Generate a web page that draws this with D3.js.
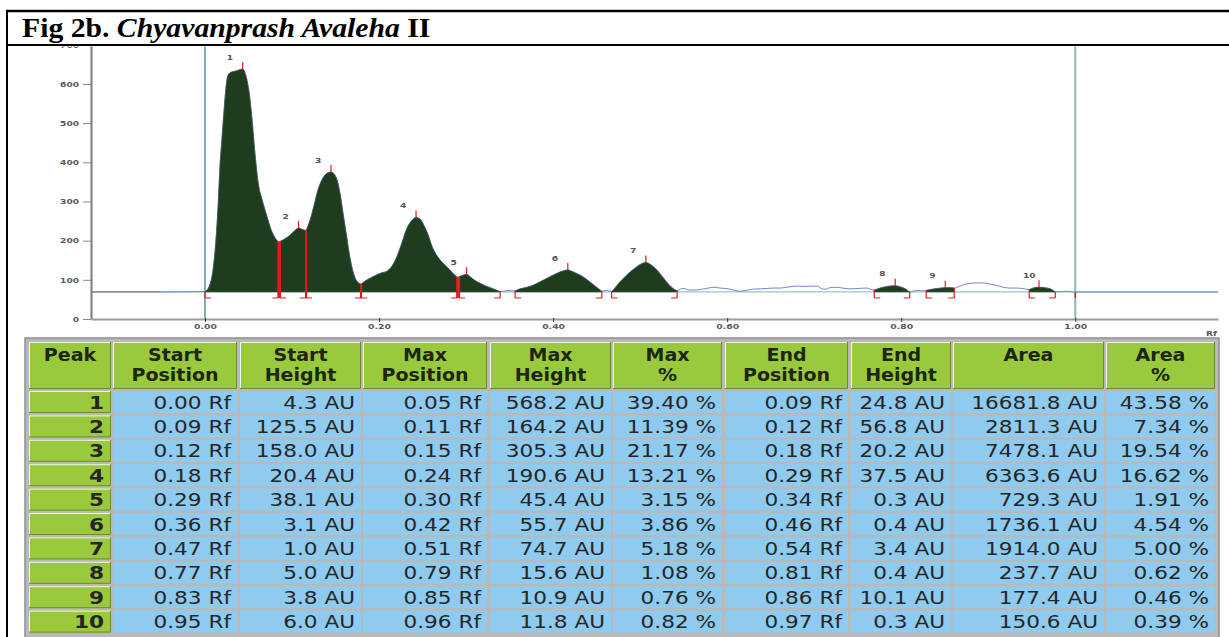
<!DOCTYPE html>
<html>
<head>
<meta charset="utf-8">
<script src="https://cdn.jsdelivr.net/npm/d3@7"></script>
<style>
  body { margin: 0; background: #fff; }
  svg { display: block; }
</style>
</head>
<body>
<svg id="fig"></svg>
<script>
// Densitogram trace (Rf, AU)
const curveRf = [-0.0517, 0, 0.0046, 0.0092, 0.0126, 0.0153, 0.0172, 0.0195, 0.0218, 0.0241, 0.0264, 0.0299, 0.0356,
  0.0433, 0.0471, 0.0506, 0.0540, 0.0575, 0.0609, 0.0655, 0.0701, 0.0759, 0.0843, 0.0862, 0.0920, 0.0977, 0.1034,
  0.1075, 0.1126, 0.1161, 0.1207, 0.1253, 0.1299, 0.1356, 0.1402, 0.1448, 0.1483, 0.1517, 0.1552, 0.1586, 0.1621,
  0.1655, 0.1690, 0.1724, 0.1759, 0.1793, 0.1839, 0.1897, 0.1966, 0.2034, 0.2092, 0.2149, 0.2207, 0.2264, 0.2322,
  0.2379, 0.2425, 0.2471, 0.2517, 0.2563, 0.2609, 0.2655, 0.2724, 0.2793, 0.2851, 0.2897, 0.2920, 0.2966, 0.3006,
  0.3046, 0.3103, 0.3161, 0.3218, 0.3276, 0.3333, 0.3391, 0.3437, 0.3483, 0.3529, 0.3563, 0.3621, 0.3701, 0.3770,
  0.3851, 0.3931, 0.4000, 0.4080, 0.4169, 0.4230, 0.4310, 0.4379, 0.4448, 0.4506, 0.4560, 0.4609, 0.4644, 0.4672,
  0.4713, 0.4770, 0.4828, 0.4885, 0.4943, 0.5000, 0.5066, 0.5126, 0.5184, 0.5241, 0.5299, 0.5356, 0.5425, 0.5471,
  0.5506, 0.5552, 0.5632, 0.5713, 0.5782, 0.5839, 0.5920, 0.6011, 0.6092, 0.6149, 0.6218, 0.6287, 0.6379, 0.6460,
  0.6540, 0.6609, 0.6678, 0.6747, 0.6816, 0.6897, 0.6977, 0.7034, 0.7080, 0.7126, 0.7184, 0.7253, 0.7322, 0.7414,
  0.7506, 0.7598, 0.7690, 0.7759, 0.7839, 0.7931, 0.7989, 0.8046, 0.8098, 0.8138, 0.8195, 0.8241, 0.8287, 0.8356,
  0.8425, 0.8506, 0.8563, 0.8609, 0.8667, 0.8724, 0.8793, 0.8874, 0.8954, 0.9023, 0.9092, 0.9172, 0.9253, 0.9333,
  0.9414, 0.9471, 0.9529, 0.9583, 0.9644, 0.9713, 0.9770, 0.9828, 0.9897, 0.9943, 1.0, 1.1644];
const curveAu = [69, 70, 82, 125, 202, 300, 390, 460, 530, 590, 622, 630, 633,
  638, 620, 580, 510, 420, 350, 305, 270, 228, 197, 198, 205, 214, 226,
  232, 228, 226, 252, 290, 330, 360, 372, 375, 370, 355, 320, 270, 220,
  170, 130, 105, 93, 89, 97, 104, 112, 118, 122, 135, 160, 195, 232,
  252, 259, 255, 238, 215, 185, 165, 145, 130, 116, 107, 108, 112, 114,
  108, 98, 91, 85, 80, 75, 70, 71, 73, 72, 72, 77, 81, 86,
  95, 104, 112, 120, 125, 120, 112, 102, 90, 80, 71, 73, 72, 70,
  80, 95, 108, 120, 130, 139, 144, 138, 127, 112, 96, 82, 72, 77,
  78, 74, 74, 76, 79, 81, 79, 77, 73, 71, 73, 76, 77, 78,
  79, 79, 81, 83, 84, 83, 84, 84, 78, 76, 80, 81, 79, 77,
  78, 79, 74, 79, 83, 85, 82, 77, 69, 71, 73, 72, 73, 76,
  78, 80, 80, 79, 83, 88, 91, 92, 92, 89, 86, 81, 79, 79,
  77, 75, 80, 81, 80, 77, 69, 70, 71, 70, 69, 69];
const baselineAu = 69;

// Integrated peaks as marked on the trace
const peakIds = [1, 2, 3, 4, 5, 6, 7, 8, 9, 10];
const markStartRf = [0, 0.0862, 0.1161, 0.1793, 0.2920, 0.3563, 0.4672, 0.7690, 0.8287, 0.9471];
const markEndRf = [0.0843, 0.1161, 0.1793, 0.2897, 0.3391, 0.4560, 0.5425, 0.8098, 0.8609, 0.9770];
const markMaxRf = [0.0433, 0.1075, 0.1448, 0.2425, 0.3006, 0.4169, 0.5066, 0.7931, 0.8506, 0.9583];
const frontRf = [1.0];

// Axis ticks
const yTicks = [0, 100, 200, 300, 400, 500, 600, 700];
const xTicks = [0, 0.2, 0.4, 0.6, 0.8, 1.0];

// Peak table
const colHeads = [['Peak'], ['Start', 'Position'], ['Start', 'Height'], ['Max', 'Position'], ['Max', 'Height'],
  ['Max', '%'], ['End', 'Position'], ['End', 'Height'], ['Area'], ['Area', '%']];
const startPos = [0.00, 0.09, 0.12, 0.18, 0.29, 0.36, 0.47, 0.77, 0.83, 0.95];
const startHeight = [4.3, 125.5, 158.0, 20.4, 38.1, 3.1, 1.0, 5.0, 3.8, 6.0];
const maxPos = [0.05, 0.11, 0.15, 0.24, 0.30, 0.42, 0.51, 0.79, 0.85, 0.96];
const maxHeight = [568.2, 164.2, 305.3, 190.6, 45.4, 55.7, 74.7, 15.6, 10.9, 11.8];
const maxPct = [39.40, 11.39, 21.17, 13.21, 3.15, 3.86, 5.18, 1.08, 0.76, 0.82];
const endPos = [0.09, 0.12, 0.18, 0.29, 0.34, 0.46, 0.54, 0.81, 0.86, 0.97];
const endHeight = [24.8, 56.8, 20.2, 37.5, 0.3, 0.4, 3.4, 0.4, 10.1, 0.3];
const area = [16681.8, 2811.3, 7478.1, 6363.6, 729.3, 1736.1, 1914.0, 237.7, 177.4, 150.6];
const areaPct = [43.58, 7.34, 19.54, 16.62, 1.91, 4.54, 5.00, 0.62, 0.46, 0.39];

const width = 1229;
const height = 637;

const svg = d3.select('#fig')
  .attr('width', width)
  .attr('height', height);

// stretched text helper (the scan is wider than it is tall)
function stext(g, tx, ty, txt, sx, anchor) {
  return g.append('text')
    .attr('transform', `translate(${tx},${ty}) scale(${sx},1)`)
    .attr('text-anchor', anchor || 'start')
    .text(txt);
}

// Scales
const x = d3.scaleLinear().domain([-0.131, 1.164]).range([91, 1218]);
const y = d3.scaleLinear().domain([0, 700]).range([319, 44.8]);

const pts = curveRf.map((r, i) => ({ rf: r, au: curveAu[i] }));
const auAt = rf => pts.reduce((a, b) => Math.abs(b.rf - rf) < Math.abs(a.rf - rf) ? b : a).au;

svg.append('clipPath').attr('id', 'plotClip')
  .append('rect').attr('x', 0).attr('y', 46.5).attr('width', width).attr('height', height);

const plot = svg.append('g').attr('clip-path', 'url(#plotClip)');

// Baseline
plot.append('line')
  .attr('x1', x.range()[0]).attr('x2', x.range()[1])
  .attr('y1', y(baselineAu)).attr('y2', y(baselineAu))
  .attr('stroke', '#9cc4c4').attr('stroke-width', 1.3);
plot.append('line')
  .attr('x1', x.range()[0]).attr('x2', x(curveRf[0]))
  .attr('y1', y(baselineAu)).attr('y2', y(baselineAu))
  .attr('stroke', '#7a7a7a').attr('stroke-width', 1.3);

// Raw trace
const line = d3.line().x(d => x(d.rf)).y(d => y(d.au)).curve(d3.curveMonotoneX);
plot.append('path')
  .datum(pts)
  .attr('d', line)
  .attr('fill', 'none')
  .attr('stroke', '#7384cf')
  .attr('stroke-width', 1);

// Filled peaks
const areaGen = d3.area().x(d => x(d.rf)).y0(y(baselineAu)).y1(d => y(d.au)).curve(d3.curveMonotoneX);
peakIds.forEach((p, i) => {
  const seg = pts.filter(d => d.rf >= markStartRf[i] - 1e-6 && d.rf <= markEndRf[i] + 1e-6);
  plot.append('path')
    .datum(seg)
    .attr('d', areaGen)
    .attr('fill', '#1e3d1f')
    .attr('stroke', '#4a5a4a')
    .attr('stroke-width', 0.6);
});

// Start / end of track
[0, 1].forEach((v, k) => {
  plot.append('line')
    .attr('x1', x(v)).attr('x2', x(v))
    .attr('y1', 40).attr('y2', 319)
    .attr('stroke', k ? '#8fb5b5' : '#2f7c7c')
    .attr('stroke-width', k ? 2 : 1.2);
});

// Axes
const yAxis = d3.axisLeft(y).tickValues(yTicks).tickSize(8).tickPadding(1.2).tickSizeOuter(0);
const gy = plot.append('g').attr('transform', 'translate(91,0)').call(yAxis);
gy.select('.domain').attr('stroke', '#7d7d7d').attr('stroke-width', 2);
gy.selectAll('.tick line').attr('stroke', '#8a8a8a');
gy.selectAll('.tick text')
  .attr('fill', '#5a5a5a')
  .attr('font-family', 'DejaVu Sans')
  .attr('font-weight', 'bold')
  .attr('font-size', 7)
  .attr('transform', 'scale(1.3,1)');

const xAxis = d3.axisBottom(x).tickValues(xTicks).tickFormat(d3.format('.2f')).tickSize(3).tickPadding(2).tickSizeOuter(0);
const gx = plot.append('g').attr('transform', 'translate(0,319)').call(xAxis);
gx.select('.domain').attr('stroke', '#9c9c9c').attr('stroke-width', 2);
gx.selectAll('.tick line').attr('stroke', '#333').attr('y1', -1);
gx.selectAll('.tick text')
  .attr('fill', '#5a5a5a')
  .attr('font-family', 'DejaVu Sans')
  .attr('font-weight', 'bold')
  .attr('font-size', 7)
  .attr('transform', 'scale(1.33,1)');

const rfLab = stext(svg, 1206, 336, 'Rf', 1.3);
rfLab.attr('fill', '#5a5a5a').attr('font-family', 'DejaVu Sans').attr('font-weight', 'bold').attr('font-size', 7);

// Peak marks
const red = '#e3171c';
const yFoot = y(baselineAu) + 6;
peakIds.forEach((p, i) => {
  const s = markStartRf[i], e = markEndRf[i], m = markMaxRf[i];
  [[s, 6], [e, -6]].forEach(([rf, dir]) => {
    const au = auAt(rf);
    const w = au - baselineAu > 10 ? 2 : 1.2;
    plot.append('line')
      .attr('x1', x(rf)).attr('x2', x(rf))
      .attr('y1', y(au)).attr('y2', yFoot)
      .attr('stroke', red).attr('stroke-width', w);
    plot.append('line')
      .attr('x1', x(rf)).attr('x2', x(rf) + dir)
      .attr('y1', yFoot).attr('y2', yFoot)
      .attr('stroke', red).attr('stroke-width', 1);
  });
  const top = y(auAt(m));
  plot.append('line')
    .attr('x1', x(m)).attr('x2', x(m))
    .attr('y1', top - 7).attr('y2', top)
    .attr('stroke', red).attr('stroke-width', 1.2);
  stext(plot, x(m) - 16, top - 9.5, String(p), 1.3)
    .attr('fill', '#555')
    .attr('font-family', 'DejaVu Sans')
    .attr('font-weight', 'bold')
    .attr('font-size', 7);
});
frontRf.forEach(rf => {
  plot.append('line')
    .attr('x1', x(rf)).attr('x2', x(rf))
    .attr('y1', y(baselineAu)).attr('y2', yFoot)
    .attr('stroke', red).attr('stroke-width', 1.5);
});

// Frame and title
svg.append('line').attr('x1', 6).attr('x2', width).attr('y1', 11).attr('y2', 11)
  .attr('stroke', '#000').attr('stroke-width', 2.5);
svg.append('line').attr('x1', 7).attr('x2', 7).attr('y1', 10).attr('y2', height)
  .attr('stroke', '#000').attr('stroke-width', 2);
svg.append('line').attr('x1', 7).attr('x2', width).attr('y1', 45).attr('y2', 45)
  .attr('stroke', '#000').attr('stroke-width', 1.8);

const title = svg.append('text')
  .attr('transform', 'translate(22,37) scale(1.1,1)')
  .attr('font-family', 'Liberation Serif')
  .attr('font-size', 27)
  .attr('font-weight', 'bold')
  .attr('fill', '#000');
title.append('tspan').text('Fig 2b. ');
title.append('tspan').attr('font-style', 'italic').text('Chyavanprash Avaleha');
title.append('tspan').text(' II');

// Table
const colX = [29, 113, 240, 363, 490, 613, 725, 851, 953, 1106];
const colW = [82, 124, 121, 124, 121, 109, 123, 100, 151, 109];
const headTop = 342, headH = 47, rowTop = 391, rowH = 22, rowStep = 24.4;
const green = '#9bc93c', blue = '#8ecbef';

const tbl = svg.append('g');
tbl.append('rect')
  .attr('x', 25).attr('y', 338).attr('width', 1194).attr('height', 310)
  .attr('fill', '#b9b9b9').attr('stroke', '#8f8f8f').attr('stroke-width', 1.5);

function bevel(g, x0, y0, w, h) {
  g.append('path').attr('d', `M${x0 + 0.5},${y0 + h} V${y0 + 0.5} H${x0 + w}`)
    .attr('fill', 'none').attr('stroke', '#f2f7e6').attr('stroke-width', 1);
  g.append('path').attr('d', `M${x0 + w - 0.5},${y0} V${y0 + h - 0.5} H${x0}`)
    .attr('fill', 'none').attr('stroke', '#6e8a30').attr('stroke-width', 1);
}

colHeads.forEach((h, c) => {
  tbl.append('rect').attr('x', colX[c]).attr('y', headTop).attr('width', colW[c]).attr('height', headH)
    .attr('fill', green);
  bevel(tbl, colX[c], headTop, colW[c], headH);
  h.forEach((t, k) => {
    stext(tbl, colX[c] + colW[c] / 2, 361 + k * 19.5, t, 1.12, 'middle')
      .attr('font-family', 'DejaVu Sans')
      .attr('font-weight', 'bold')
      .attr('font-size', 17)
      .attr('fill', '#1c2610');
  });
});

const fmt = (v, d, u) => v.toFixed(d) + u;
const rows = peakIds.map((p, i) => [
  String(p),
  fmt(startPos[i], 2, ' Rf'),
  fmt(startHeight[i], 1, ' AU'),
  fmt(maxPos[i], 2, ' Rf'),
  fmt(maxHeight[i], 1, ' AU'),
  fmt(maxPct[i], 2, ' %'),
  fmt(endPos[i], 2, ' Rf'),
  fmt(endHeight[i], 1, ' AU'),
  fmt(area[i], 1, ' AU'),
  fmt(areaPct[i], 2, ' %')
]);

rows.forEach((r, i) => {
  const ry = rowTop + i * rowStep;
  r.forEach((t, c) => {
    tbl.append('rect').attr('x', colX[c]).attr('y', ry).attr('width', colW[c]).attr('height', rowH)
      .attr('fill', c === 0 ? green : blue);
    if (c === 0) bevel(tbl, colX[c], ry, colW[c], rowH);
    stext(tbl, colX[c] + colW[c] - (c === 0 ? 7 : 6), ry + 17.5, t, 1.27, 'end')
      .attr('font-family', 'DejaVu Sans')
      .attr('font-weight', c === 0 ? 'bold' : 'normal')
      .attr('font-size', 17)
      .attr('fill', '#262626');
  });
});
</script>
</body>
</html>
